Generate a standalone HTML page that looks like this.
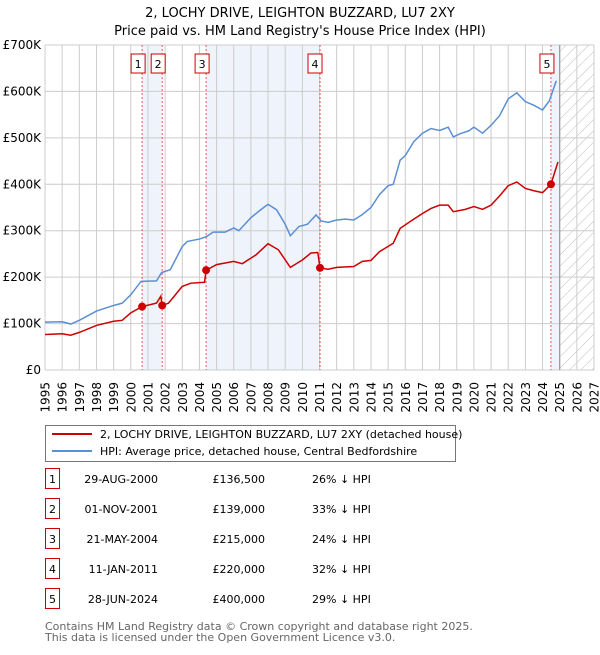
<!DOCTYPE html>
<html><head><meta charset="utf-8"><style>
body{margin:0;background:#fff;font-family:"Liberation Sans","DejaVu Sans",sans-serif;}
svg text{font-family:"DejaVu Sans","Liberation Sans",sans-serif;}
</style></head><body>
<svg id="c" width="600" height="650" xmlns="http://www.w3.org/2000/svg">
<defs><pattern id="hatch" width="8" height="8" patternUnits="userSpaceOnUse" patternTransform="rotate(45)"><line x1="0" y1="0" x2="0" y2="8" stroke="#bbb" stroke-width="1"/></pattern></defs>
<text x="300" y="17" text-anchor="middle" font-size="13">2, LOCHY DRIVE, LEIGHTON BUZZARD, LU7 2XY</text>
<text x="300" y="35" text-anchor="middle" font-size="13">Price paid vs. HM Land Registry's House Price Index (HPI)</text>
<g id="plot"></g>
<g>
<rect x="45.5" y="425.5" width="410" height="36" fill="#fff" stroke="#777"/>
<line x1="52" y1="434" x2="92" y2="434" stroke="#cc0000" stroke-width="2"/>
<text x="100" y="438" font-size="11">2, LOCHY DRIVE, LEIGHTON BUZZARD, LU7 2XY (detached house)</text>
<line x1="52" y1="451" x2="92" y2="451" stroke="#5b8fd4" stroke-width="2"/>
<text x="100" y="455" font-size="11">HPI: Average price, detached house, Central Bedfordshire</text>
</g>
<g id="table" font-size="11"></g>
<text x="45" y="630" font-size="11" fill="#666">Contains HM Land Registry data © Crown copyright and database right 2025.</text>
<text x="45" y="641" font-size="11" fill="#666">This data is licensed under the Open Government Licence v3.0.</text>
</svg>
<script>
const hpiYears=[1995,1996,1996.5,1997,1998,1999,1999.5,2000,2000.6,2001.5,2001.8,2002.3,2003,2003.3,2004,2004.4,2004.8,2005.5,2006,2006.3,2007,2007.5,2008,2008.5,2009,2009.3,2009.8,2010.3,2010.8,2011.1,2011.5,2012,2012.5,2013,2013.5,2014,2014.5,2015,2015.3,2015.7,2016,2016.5,2017,2017.5,2018,2018.5,2018.8,2019.2,2019.7,2020,2020.5,2021,2021.5,2022,2022.5,2023,2023.5,2024,2024.4,2024.8];
const hpiValues=[103,104,99,107,127,139,144,162,191,192,210,216,266,277,282,287,297,297,306,300,328,343,357,345,314,289,309,314,334,321,318,323,325,323,335,350,378,397,400,452,462,492,510,520,516,523,502,509,515,523,510,527,548,584,597,578,570,560,580,623];
const ppYears=[1995,1996,1996.5,1997,1998,1999,1999.5,2000,2000.66,2001.5,2001.75,2001.83,2002.2,2003,2003.5,2004.3,2004.39,2005,2006,2006.5,2007.3,2008,2008.6,2009.3,2010,2010.5,2010.9,2011.03,2011.5,2012,2013,2013.5,2014,2014.5,2015.3,2015.7,2016.3,2017,2017.5,2018,2018.5,2018.8,2019.5,2020,2020.5,2021,2021.5,2022,2022.5,2023,2023.5,2024,2024.49,2024.9];
const ppValues=[76.5,78,75,81,96,105,107,123,136.5,144,159,139,144,180,187,189,215,227,234,229,248,272,259,221,237,252,253,220,217,221,223,234,236,255,273,305,320,337,348,355,355,341,346,352,346,355,375,397,405,391,386,382,400,448];
const saleLabels=["1","2","3","4","5"];
const saleYears=[2000.66,2001.83,2004.39,2011.03,2024.49];
const saleValues=[136.5,139,215,220,400];
const saleDates=["29-AUG-2000","01-NOV-2001","21-MAY-2004","11-JAN-2011","28-JUN-2024"];
const salePrices=["£136,500","£139,000","£215,000","£220,000","£400,000"];
const saleHpi=["26% ↓ HPI","33% ↓ HPI","24% ↓ HPI","32% ↓ HPI","29% ↓ HPI"];
const yTicks=[0,100,200,300,400,500,600,700];
const yTickLabels=["£0","£100K","£200K","£300K","£400K","£500K","£600K","£700K"];
const xTicks=[1995,1996,1997,1998,1999,2000,2001,2002,2003,2004,2005,2006,2007,2008,2009,2010,2011,2012,2013,2014,2015,2016,2017,2018,2019,2020,2021,2022,2023,2024,2025,2026,2027];
const NS="http://www.w3.org/2000/svg";
const X0=45,X1=594,Y0=370,Y1=45;
const x=v=>X0+(v-1995)*(X1-X0)/32;
const y=v=>Y0-v*(Y0-Y1)/700;
const plot=document.getElementById('plot');
function mk(t,a,p){const e=document.createElementNS(NS,t);for(const k in a)e.setAttribute(k,a[k]);(p||plot).appendChild(e);return e;}
const bands=[[0,1],[2,3]];
bands.forEach(b=>{const r=mk('rect',{x:x(saleYears[b[0]]),y:Y1,width:x(saleYears[b[1]])-x(saleYears[b[0]]),height:Y0-Y1,fill:'#eef3fc'});

});
const b5=mk('rect',{x:x(saleYears[4]),y:Y1,width:x(2025)-x(saleYears[4]),height:Y0-Y1,fill:'#eef3fc'});


const hz=mk('rect',{x:x(2025),y:Y1,width:X1-x(2025),height:Y0-Y1,fill:'url(#hatch)'});


xTicks.forEach(t=>{mk('line',{x1:x(t),x2:x(t),y1:Y1,y2:Y0,stroke:'#ccc','stroke-width':1});
const tx=mk('text',{x:0,y:0,'text-anchor':'end','font-size':12,transform:`translate(${x(t)+4.5},${Y0+12}) rotate(-90)`});tx.textContent=t;

});
yTicks.forEach((t,i)=>{mk('line',{x1:X0,x2:X1,y1:y(t),y2:y(t),stroke:'#ccc','stroke-width':1});
const tx=mk('text',{x:X0-4,y:y(t)+4,'text-anchor':'end','font-size':12});tx.textContent=yTickLabels[i];

});
mk('line',{x1:x(2025),x2:x(2025),y1:Y1,y2:Y0,stroke:'#999','stroke-width':1.2});
saleYears.forEach(s=>mk('line',{x1:x(s),x2:x(s),y1:Y1,y2:Y0,stroke:'#e55','stroke-width':1,'stroke-dasharray':'2,2'}));
const hp=mk('polyline',{points:hpiYears.map((v,i)=>x(v)+','+y(hpiValues[i])).join(' '),fill:'none',stroke:'#5b8fd4','stroke-width':1.5});


const pp=mk('polyline',{points:ppYears.map((v,i)=>x(v)+','+y(ppValues[i])).join(' '),fill:'none',stroke:'#cc0000','stroke-width':1.5});


saleYears.forEach((s,i)=>{const c=mk('circle',{cx:x(s),cy:y(saleValues[i]),r:4,fill:'#cc0000'});


const bx=x(s)-(i==3?4:0)-7-(i<3||i==4?3:0);
const r=mk('rect',{x:bx-1,y:54,width:14,height:19,fill:'#fff',stroke:'#cc0000'});


const t=mk('text',{x:bx+6,y:68,'text-anchor':'middle','font-size':11});t.textContent=saleLabels[i];});
const tb=document.getElementById('table');
saleLabels.forEach((l,i)=>{const yy=483+i*30;
const r=mk('rect',{x:45.5,y:yy-14.5,width:14,height:20,fill:'#fff',stroke:'#cc0000'},tb);


const a=mk('text',{x:52.5,y:yy,'text-anchor':'middle'},tb);a.textContent=l;
const d=mk('text',{x:158,y:yy,'text-anchor':'end'},tb);d.textContent=saleDates[i];


const p=mk('text',{x:265,y:yy,'text-anchor':'end'},tb);p.textContent=salePrices[i];


const h=mk('text',{x:312,y:yy},tb);h.textContent=saleHpi[i];

});
</script>
</body></html>
